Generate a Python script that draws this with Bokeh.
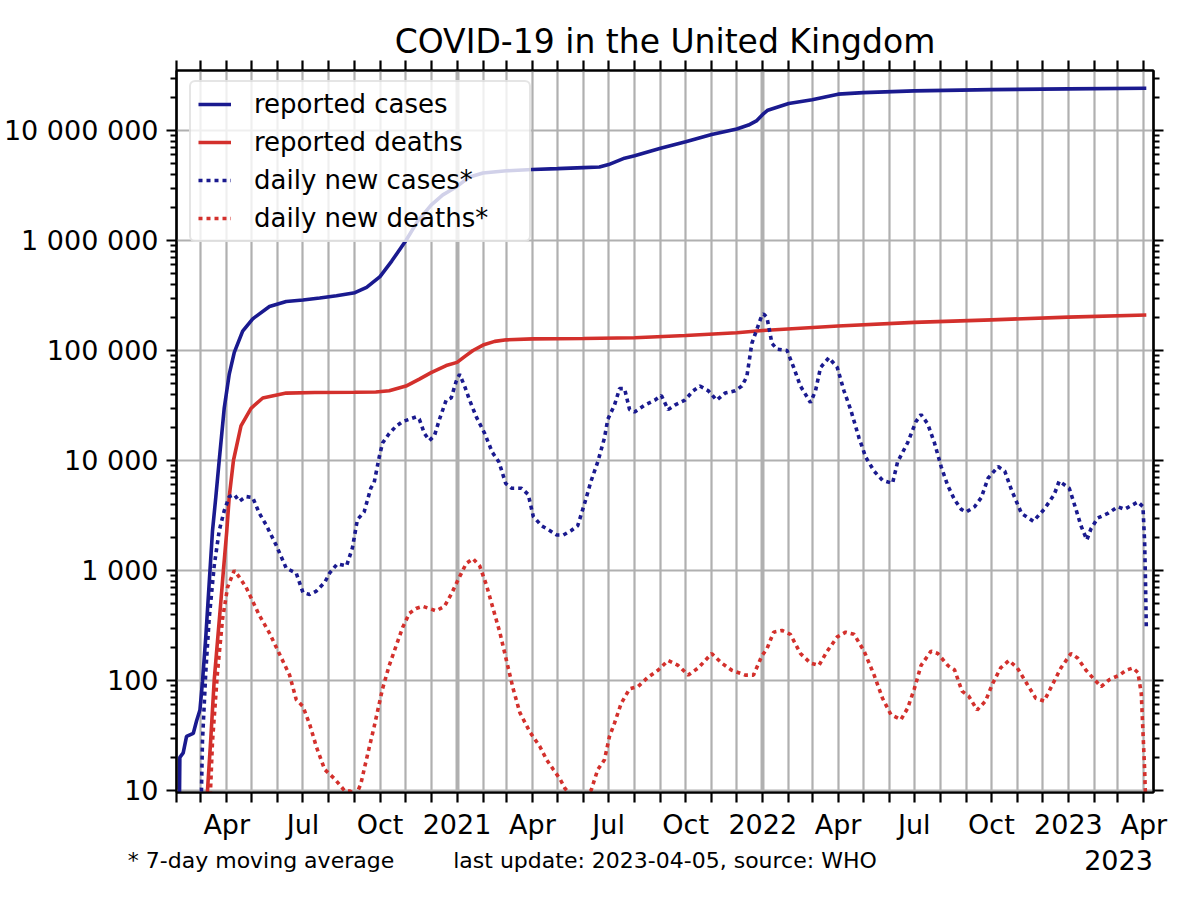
import pandas as pd
from bokeh.plotting import figure
from bokeh.models import (Range1d, LogAxis, DatetimeAxis, FixedTicker, Legend, LegendItem,
                          Grid, CustomJSTickFormatter, ColumnDataSource)
from bokeh.embed import file_html
from bokeh.resources import INLINE

FONT = "DejaVu Sans"
BLUE = "#1a1a8f"
RED = "#d3302c"

# ---------------- data ----------------
cum_cases_dates = ["2020-02-01", "2020-02-04", "2020-02-05", "2020-02-09", "2020-02-13", "2020-02-21",
                   "2020-02-25", "2020-02-29", "2020-03-03", "2020-03-07", "2020-03-11", "2020-03-15",
                   "2020-03-19", "2020-03-23", "2020-03-29", "2020-04-04", "2020-04-10", "2020-04-20",
                   "2020-05-02", "2020-05-22", "2020-06-11", "2020-07-01", "2020-07-21", "2020-08-10",
                   "2020-09-01", "2020-09-15", "2020-10-01", "2020-10-15", "2020-11-01", "2020-11-15",
                   "2020-12-01", "2020-12-15", "2021-01-01", "2021-01-15", "2021-02-01", "2021-03-01",
                   "2021-04-01", "2021-05-01", "2021-06-01", "2021-06-20", "2021-07-01", "2021-07-20",
                   "2021-08-01", "2021-09-01", "2021-10-01", "2021-11-01", "2021-12-01", "2021-12-15",
                   "2021-12-25", "2022-01-01", "2022-01-07", "2022-02-01", "2022-03-01", "2022-04-01",
                   "2022-05-01", "2022-07-01", "2022-10-01", "2023-01-01", "2023-04-04"]
cum_cases = [2, 3, 20, 22, 31, 33,
             43, 54, 97, 250, 760, 2300,
             4700, 10000, 30000, 61000, 96000, 150000,
             194000, 251000, 279000, 288000, 300000, 315000,
             335000, 375000, 470000, 650000, 1000000, 1500000,
             2100000, 2600000, 3100000, 3750000, 4100000, 4300000,
             4420000, 4500000, 4600000, 4650000, 4900000, 5600000,
             5900000, 6900000, 7900000, 9200000, 10300000, 11200000,
             12300000, 14000000, 15300000, 17600000, 19000000, 21400000,
             22100000, 22900000, 23500000, 23900000, 24200000]

cum_deaths_dates = ["2020-03-05", "2020-03-09", "2020-03-13", "2020-03-17", "2020-03-21", "2020-03-25",
                    "2020-03-28", "2020-04-01", "2020-04-04", "2020-04-09", "2020-04-18", "2020-04-30",
                    "2020-05-14", "2020-06-11", "2020-07-15", "2020-09-01", "2020-09-26", "2020-10-12",
                    "2020-11-01", "2020-11-17", "2020-12-01", "2020-12-19", "2021-01-01", "2021-01-10",
                    "2021-01-20", "2021-02-01", "2021-02-15", "2021-03-01", "2021-04-01", "2021-06-01",
                    "2021-08-01", "2021-10-01", "2021-12-01", "2022-01-01", "2022-04-01", "2022-07-01",
                    "2022-10-01", "2023-01-01", "2023-04-04"]
cum_deaths = [1, 10, 30, 100, 230, 525,
              1000, 2270, 4700, 10000, 20600, 29800,
              37000, 41000, 41500, 41700, 42000, 43000,
              47500, 55000, 63000, 73000, 78000, 88000,
              100000, 112000, 121000, 125000, 127500, 128500,
              130500, 137000, 145000, 152000, 167000, 180000,
              190000, 201000, 210000]

new_cases_dates = ["2020-03-01", "2020-03-03", "2020-03-07", "2020-03-11", "2020-03-17", "2020-03-23",
                   "2020-03-29", "2020-04-04", "2020-04-10", "2020-04-16", "2020-04-24", "2020-05-02",
                   "2020-05-10", "2020-05-18", "2020-05-30", "2020-06-11", "2020-06-23", "2020-07-01",
                   "2020-07-09", "2020-07-17", "2020-07-27", "2020-08-02", "2020-08-11", "2020-08-22",
                   "2020-08-29", "2020-09-04", "2020-09-12", "2020-09-20", "2020-09-24", "2020-09-30",
                   "2020-10-04", "2020-10-12", "2020-10-20", "2020-10-28", "2020-11-05", "2020-11-13",
                   "2020-11-17", "2020-11-23", "2020-11-29", "2020-12-05", "2020-12-11", "2020-12-19",
                   "2020-12-25", "2020-12-31", "2021-01-04", "2021-01-10", "2021-01-16", "2021-01-24",
                   "2021-02-03", "2021-02-12", "2021-02-20", "2021-02-28", "2021-03-07", "2021-03-19",
                   "2021-03-27", "2021-04-02", "2021-04-12", "2021-04-22", "2021-04-30", "2021-05-08",
                   "2021-05-17", "2021-05-25", "2021-06-02", "2021-06-10", "2021-06-18", "2021-06-26",
                   "2021-06-30", "2021-07-08", "2021-07-14", "2021-07-20", "2021-07-26", "2021-08-01",
                   "2021-08-13", "2021-08-25", "2021-09-02", "2021-09-10", "2021-09-18", "2021-09-30",
                   "2021-10-10", "2021-10-18", "2021-10-28", "2021-11-07", "2021-11-17", "2021-11-29",
                   "2021-12-07", "2021-12-13", "2021-12-19", "2021-12-25", "2021-12-31", "2022-01-02",
                   "2022-01-06", "2022-01-12", "2022-01-18", "2022-01-30", "2022-02-07", "2022-02-15",
                   "2022-02-27", "2022-03-05", "2022-03-11", "2022-03-21", "2022-03-31", "2022-04-08",
                   "2022-04-16", "2022-04-26", "2022-05-04", "2022-05-14", "2022-05-24", "2022-06-05",
                   "2022-06-11", "2022-06-23", "2022-07-03", "2022-07-09", "2022-07-17", "2022-07-25",
                   "2022-08-02", "2022-08-10", "2022-08-18", "2022-08-26", "2022-09-01", "2022-09-11",
                   "2022-09-19", "2022-09-27", "2022-10-09", "2022-10-17", "2022-10-25", "2022-11-06",
                   "2022-11-20", "2022-12-03", "2022-12-15", "2022-12-21", "2023-01-02", "2023-01-10",
                   "2023-01-16", "2023-01-23", "2023-01-28", "2023-02-05", "2023-02-17", "2023-03-01",
                   "2023-03-09", "2023-03-25", "2023-03-31", "2023-04-02", "2023-04-03", "2023-04-04"]
new_cases = [5, 28, 120, 363, 1100, 2300,
             3500, 4700, 4900, 4250, 4700, 4600,
             3300, 2600, 1700, 1050, 945, 630,
             605, 650, 780, 950, 1150, 1100,
             1600, 2900, 3400, 5600, 6300, 10700,
             14400, 17600, 20400, 22600, 23700, 24900,
             23700, 17600, 15200, 16800, 23700, 35300,
             37100, 52500, 60800, 47500, 35300, 24900,
             17600, 11900, 9700, 6200, 5600, 5600,
             4900, 3100, 2550, 2300, 2100, 2100,
             2300, 2550, 4000, 6500, 9700, 16000,
             23700, 31900, 45000, 45000, 29000, 27600,
             31900, 35300, 39000, 29000, 31900, 35300,
             43000, 47500, 43000, 35300, 41000, 43000,
             47500, 57800, 116000, 156000, 210000, 215000,
             200000, 116000, 103000, 100000, 70000, 47500,
             33600, 43000, 70000, 86000, 70000, 43000,
             29000, 16000, 10700, 8000, 6600, 6200,
             9700, 14500, 22600, 26200, 21500, 14500,
             8800, 5900, 4400, 3600, 3400, 3800,
             4600, 6900, 8800, 8000, 5400, 3300,
             2800, 3600, 4900, 6500, 5600, 3600,
             2550, 1900, 2400, 3000, 3300, 3800,
             3600, 4200, 3800, 1800, 820, 300]

new_deaths_dates = ["2020-03-08", "2020-03-11", "2020-03-15", "2020-03-21", "2020-03-27", "2020-04-02",
                    "2020-04-10", "2020-04-16", "2020-04-24", "2020-05-02", "2020-05-10", "2020-05-22",
                    "2020-06-03", "2020-06-15", "2020-06-23", "2020-07-01", "2020-07-09", "2020-07-17",
                    "2020-07-27", "2020-08-08", "2020-08-20", "2020-08-26", "2020-09-02", "2020-09-08",
                    "2020-09-16", "2020-09-24", "2020-10-04", "2020-10-12", "2020-10-20", "2020-10-28",
                    "2020-11-05", "2020-11-13", "2020-11-21", "2020-11-29", "2020-12-07", "2020-12-17",
                    "2020-12-25", "2021-01-02", "2021-01-12", "2021-01-20", "2021-01-28", "2021-02-05",
                    "2021-02-13", "2021-02-21", "2021-03-01", "2021-03-09", "2021-03-17", "2021-03-29",
                    "2021-04-10", "2021-04-18", "2021-04-26", "2021-05-04", "2021-05-10", "2021-05-18",
                    "2021-05-26", "2021-06-02", "2021-06-10", "2021-06-18", "2021-06-26", "2021-07-02",
                    "2021-07-08", "2021-07-16", "2021-07-26", "2021-08-05", "2021-08-17", "2021-08-29",
                    "2021-09-10", "2021-09-22", "2021-10-04", "2021-10-16", "2021-11-01", "2021-11-13",
                    "2021-11-25", "2021-12-11", "2021-12-21", "2021-12-31", "2022-01-06", "2022-01-14",
                    "2022-01-24", "2022-02-03", "2022-02-15", "2022-02-27", "2022-03-09", "2022-03-19",
                    "2022-03-31", "2022-04-10", "2022-04-20", "2022-05-02", "2022-05-14", "2022-05-24",
                    "2022-06-03", "2022-06-15", "2022-06-23", "2022-07-01", "2022-07-09", "2022-07-21",
                    "2022-07-29", "2022-08-10", "2022-08-18", "2022-08-27", "2022-09-04", "2022-09-14",
                    "2022-09-24", "2022-10-02", "2022-10-12", "2022-10-22", "2022-11-01", "2022-11-13",
                    "2022-11-23", "2022-12-03", "2022-12-13", "2022-12-23", "2023-01-04", "2023-01-12",
                    "2023-01-22", "2023-02-01", "2023-02-09", "2023-02-19", "2023-03-03", "2023-03-11",
                    "2023-03-19", "2023-03-25", "2023-03-29", "2023-03-31", "2023-04-02", "2023-04-04"]
new_deaths = [2, 5, 28, 120, 363, 705,
              1000, 870, 705, 525, 390, 270,
              174, 112, 67, 58, 40, 25,
              15.5, 12.7, 9.9, 9.9, 9.0, 11.4,
              21, 38, 84, 137, 204, 303,
              408, 451, 472, 451, 430, 472,
              607, 817, 1160, 1280, 1100, 740,
              451, 275, 152, 84, 51, 34,
              25, 19, 15.5, 12.7, 10.4, 9,
              8.5, 9.2, 10, 15.5, 19, 31,
              41, 62, 84, 88, 107, 124,
              152, 137, 112, 130, 176, 144,
              124, 112, 112, 168, 194, 275,
              285, 263, 176, 144, 137, 185,
              249, 275, 263, 185, 112, 69,
              49, 44, 56, 84, 137, 185,
              176, 137, 125, 80, 72, 54,
              65, 92, 130, 152, 130, 92,
              69, 65, 92, 130, 176, 160,
              124, 102, 88, 102, 112, 124,
              130, 118, 76, 34, 15.5, 5]

y_tick_values = [10, 100, 1000, 10000, 100000, 1000000, 10000000]
footnote_texts = ["* 7-day moving average", "last update: 2023-04-05, source: WHO"]
offset_text = "2023"

# ---------------- helpers ----------------
def to_ms(d):
    return float((pd.Timestamp(d) - pd.Timestamp("1970-01-01")) // pd.Timedelta("1ms"))

X0 = to_ms("2020-02-01")
X1 = to_ms("2023-04-12") + 14 * 3600e3
FRAME_LEFT, FRAME_W, FRAME_H = 177, 977, 722


def px_to_ms(px):
    return X0 + (px - FRAME_LEFT) / FRAME_W * (X1 - X0)


month_ticks = [to_ms(d) for d in pd.date_range("2020-02-01", "2023-04-01", freq="MS")]
year_ticks = [to_ms("2021-01-01"), to_ms("2022-01-01")]
y_minor = [m * 10 ** k for k in range(0, 8) for m in range(2, 10)]

x_fmt = CustomJSTickFormatter(code="""
const d = new Date(tick);
const m = d.getUTCMonth();
if (m == 0) return String(d.getUTCFullYear());
if (m == 3) return "Apr";
if (m == 6) return "Jul";
if (m == 9) return "Oct";
return "";
""")
y_fmt = CustomJSTickFormatter(code="""
return Math.round(tick).toString().replace(/\\B(?=(\\d{3})+(?!\\d))/g, " ");
""")

# ---------------- figure ----------------
p = figure(x_axis_type="datetime", y_axis_type="log",
           frame_width=FRAME_W, frame_height=FRAME_H,
           x_range=Range1d(X0, X1),
           y_range=Range1d(9.59, 3.51e7),
           output_backend="svg", toolbar_location=None,
           min_border_left=169, min_border_top=70, min_border_right=38, min_border_bottom=92,
           background_fill_color="white", border_fill_color="white")

p.title.text = "COVID-19 in the United Kingdom"
p.title.text_font = FONT
p.title.text_font_size = "33px"
p.title.text_font_style = "normal"
p.title.align = "center"
p.title.text_color = "black"
p.title.standoff = 0

p.outline_line_color = "black"
p.outline_line_width = 2.2


def style_axis(ax, labels=True, minor=True, standoff=8):
    ax.axis_line_width = 2.2
    ax.axis_line_color = "black"
    ax.major_tick_line_width = 2.2
    ax.major_tick_line_color = "black"
    ax.minor_tick_line_width = 2
    ax.minor_tick_line_color = "black"
    ax.major_tick_out = 10
    ax.major_tick_in = 0
    ax.minor_tick_out = 6 if minor else 0
    ax.minor_tick_in = 0
    ax.major_label_text_font = FONT
    if labels:
        ax.major_label_text_font_size = "27px"
        ax.major_label_text_color = "black"
    else:
        ax.major_label_text_font_size = "1px"
        ax.major_label_text_color = None
    ax.major_label_standoff = standoff


xax = p.xaxis[0]
xax.ticker = FixedTicker(ticks=month_ticks, minor_ticks=[])
xax.formatter = x_fmt
style_axis(xax, labels=True, minor=False, standoff=6)

yax = p.yaxis[0]
yax.ticker = FixedTicker(ticks=y_tick_values, minor_ticks=y_minor)
yax.formatter = y_fmt
style_axis(yax, labels=True)

top = DatetimeAxis(ticker=FixedTicker(ticks=month_ticks, minor_ticks=[]), formatter=x_fmt)
style_axis(top, labels=False, minor=False, standoff=0)
p.add_layout(top, "above")

right = LogAxis(ticker=FixedTicker(ticks=y_tick_values, minor_ticks=y_minor), formatter=y_fmt)
style_axis(right, labels=False, standoff=0)
p.add_layout(right, "right")


def text_axis(labels, centers_px, size, standoff):
    ax = DatetimeAxis(ticker=FixedTicker(ticks=[px_to_ms(c) for c in centers_px], minor_ticks=[]),
                      formatter=CustomJSTickFormatter(args=dict(labels=labels),
                                                      code="return labels[index];"))
    ax.axis_line_color = None
    ax.major_tick_line_color = None
    ax.minor_tick_line_color = None
    ax.major_tick_out = 0
    ax.major_tick_in = 0
    ax.minor_tick_out = 0
    ax.minor_tick_in = 0
    ax.major_label_text_font = FONT
    ax.major_label_text_font_size = size
    ax.major_label_text_color = "black"
    ax.major_label_standoff = standoff
    p.add_layout(ax, "below")


text_axis([offset_text], [1119], "27px", 7)
text_axis(footnote_texts, [261.5, 665.5], "22px", -25)

GRID = "#b0b0b0"
p.xgrid.ticker = FixedTicker(ticks=month_ticks, minor_ticks=[])
p.xgrid.grid_line_color = GRID
p.xgrid.grid_line_width = 2.2
p.ygrid.ticker = FixedTicker(ticks=y_tick_values, minor_ticks=[])
p.ygrid.grid_line_color = GRID
p.ygrid.grid_line_width = 2.2
p.add_layout(Grid(dimension=0, ticker=FixedTicker(ticks=year_ticks, minor_ticks=[]),
                  grid_line_color=GRID, grid_line_width=4))

# ---------------- lines ----------------
src_cc = ColumnDataSource(dict(x=pd.to_datetime(cum_cases_dates), y=cum_cases))
src_cd = ColumnDataSource(dict(x=pd.to_datetime(cum_deaths_dates), y=cum_deaths))
src_nc = ColumnDataSource(dict(x=pd.to_datetime(new_cases_dates), y=new_cases))
src_nd = ColumnDataSource(dict(x=pd.to_datetime(new_deaths_dates), y=new_deaths))

LW = 3.6
DOT = "4 4"
r_cc = p.line("x", "y", source=src_cc, line_color=BLUE, line_width=LW)
r_cd = p.line("x", "y", source=src_cd, line_color=RED, line_width=LW)
r_nc = p.line("x", "y", source=src_nc, line_color=BLUE, line_width=LW, line_dash=DOT)
r_nd = p.line("x", "y", source=src_nd, line_color=RED, line_width=LW, line_dash=DOT)

legend = Legend(items=[LegendItem(label="reported cases", renderers=[r_cc]),
                       LegendItem(label="reported deaths", renderers=[r_cd]),
                       LegendItem(label="daily new cases*", renderers=[r_nc]),
                       LegendItem(label="daily new deaths*", renderers=[r_nd])],
                location=(13, 550), padding=7, spacing=8,
                glyph_width=33, glyph_height=26, label_height=26, label_width=268,
                label_standoff=23,
                label_text_font=FONT, label_text_font_size="26px", label_text_color="black",
                border_line_color="#cccccc", border_line_width=2,
                background_fill_color="white", background_fill_alpha=0.8)
if "border_radius" in Legend.properties():
    legend.border_radius = 6
p.add_layout(legend)

open("out.html", "w").write(file_html(p, INLINE, title="COVID-19 in the United Kingdom"))
